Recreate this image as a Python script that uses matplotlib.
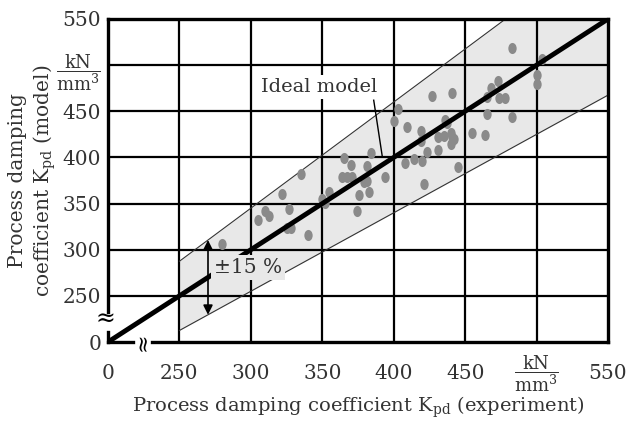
import matplotlib
matplotlib.use('Agg')
import matplotlib.pyplot as plt
import numpy as np
from matplotlib.path import Path
from matplotlib.markers import MarkerStyle

# ---- data ----
x_exp = [280, 305, 310, 313, 322, 327, 325, 328, 340, 335, 350, 352, 355, 365, 370,
         364, 367, 371, 374, 376, 379, 381, 383, 381, 384, 394, 421, 408, 414, 420,
         423, 431, 445, 400, 403, 409, 419, 419, 427, 441, 436, 437, 431, 435, 440,
         441, 442, 440, 455, 464, 465, 483, 465, 474, 478, 468, 473, 483, 504, 500, 500]
y_mod = [306, 332, 342, 336, 360, 344, 324, 323, 316, 382, 355, 351, 362, 399, 392,
         379, 379, 379, 342, 359, 373, 375, 362, 391, 405, 379, 371, 394, 398, 396,
         406, 408, 390, 439, 452, 433, 429, 418, 467, 470, 441, 437, 422, 423, 427,
         422, 420, 415, 427, 424, 447, 444, 465, 464, 464, 475, 483, 519, 507, 489, 480]

tick_values = [200, 250, 300, 350, 400, 450, 500, 550]
tick_labels = ['0', '250', '300', '350', '400', '450',
               r'$\dfrac{\mathrm{kN}}{\mathrm{mm}^3}$', '550']
axis_min, axis_max = 200, 550
tolerance = 0.15
band_start = 250
arrow_x = 270

plt.rcParams['font.family'] = 'DejaVu Serif'
plt.rcParams['mathtext.fontset'] = 'dejavuserif'
text_color = '#333333'
band_color = '#e8e8e8'
fs = 14
tick_fs = 14.5

fig = plt.figure(figsize=(6.27, 4.21), dpi=100)
ax = fig.add_axes([108 / 627, 1 - 342 / 421, 500 / 627, 323 / 421])
ax.set_xlim(axis_min, axis_max)
ax.set_ylim(axis_min, axis_max)

# tolerance band
xs = np.array([band_start, axis_max / (1 + tolerance), axis_max])
ax.fill_between(xs, (1 - tolerance) * xs, np.minimum((1 + tolerance) * xs, axis_max),
                color=band_color, lw=0, zorder=0.5)
ax.plot([band_start, axis_max / (1 + tolerance)],
        [(1 + tolerance) * band_start, axis_max], color='#333333', lw=0.8, zorder=1.5)
ax.plot([band_start, axis_max],
        [(1 - tolerance) * band_start, (1 - tolerance) * axis_max],
        color='#333333', lw=0.8, zorder=1.5)

# grid
for v in tick_values[1:-1]:
    ax.axvline(v, color='black', lw=1.6, zorder=1)
    ax.axhline(v, color='black', lw=1.6, zorder=1)

# data points (slightly elliptic dots)
circ = Path.unit_circle()
ell = Path(circ.vertices * np.array([0.75, 1.0]), circ.codes)
ax.scatter(x_exp, y_mod, marker=MarkerStyle(ell), s=64, color='#8a8a8a',
           linewidths=0, zorder=2)

# ideal line
ax.plot([axis_min, axis_max], [axis_min, axis_max], color='black', lw=3.5,
        solid_capstyle='butt', zorder=3)

# annotations
ax.text(307, 476.7, 'Ideal model', ha='left', va='center', fontsize=fs,
        color=text_color, zorder=4,
        bbox=dict(boxstyle='square,pad=0.15', fc='white', ec='none'))
ax.plot([386, 392], [462, 401], color='black', lw=1.0, zorder=4)

ax.text(274, 281, '±15 %', ha='left', va='center', fontsize=fs + 0.5, color=text_color,
        zorder=4, bbox=dict(boxstyle='square,pad=0.15', fc=band_color, ec='none'))
ax.annotate('', xy=(arrow_x, (1 - tolerance) * arrow_x),
            xytext=(arrow_x, (1 + tolerance) * arrow_x),
            arrowprops=dict(arrowstyle='<|-|>', color='black', lw=1.2,
                            mutation_scale=14, shrinkA=0, shrinkB=0), zorder=5)

# frame: top/right spines, broken left/bottom axes
for s in ['left', 'bottom']:
    ax.spines[s].set_visible(False)
for s in ['top', 'right']:
    ax.spines[s].set_linewidth(2.4)
    ax.spines[s].set_zorder(6)
ax.plot([axis_min, 217.5], [axis_min, axis_min], color='black', lw=2.4,
        clip_on=False, zorder=6, solid_capstyle='projecting')
ax.plot([230.8, axis_max], [axis_min, axis_min], color='black', lw=2.4,
        clip_on=False, zorder=6, solid_capstyle='projecting')
ax.plot([axis_min, axis_min], [axis_max, 232.7], color='black', lw=2.4,
        clip_on=False, zorder=6, solid_capstyle='projecting')
ax.plot([axis_min, axis_min], [211, axis_min], color='black', lw=2.4,
        clip_on=False, zorder=6, solid_capstyle='projecting')
ax.text(224, axis_min, '≈', rotation=90, ha='center', va='center', fontsize=16,
        color='black', clip_on=False, zorder=7)
ax.text(axis_min - 2, 226, '≈', ha='center', va='center', fontsize=17,
        color='black', clip_on=False, zorder=7)

ax.set_xticks(tick_values)
ax.set_xticklabels(tick_labels)
ax.set_yticks(tick_values)
ax.set_yticklabels(tick_labels)
ax.tick_params(axis='x', length=0, pad=23, labelsize=tick_fs, labelcolor=text_color)
ax.tick_params(axis='y', length=0, pad=5, labelsize=tick_fs, labelcolor=text_color)
for lab in ax.get_xticklabels():
    lab.set_va('center')
ax.get_xticklabels()[-2].set_fontsize(13)
ax.get_yticklabels()[-2].set_fontsize(13)

ax.set_xlabel(r'Process damping coefficient K$_{\mathrm{pd}}$ (experiment)',
              fontsize=fs, color=text_color)
ax.xaxis.set_label_coords(0.5, -0.165)
ax.set_ylabel('Process damping\n' + r'coefficient K$_{\mathrm{pd}}$ (model)',
              fontsize=fs + 0.5, color=text_color, linespacing=1.25)
ax.yaxis.set_label_coords(-0.1, 0.5)

fig.savefig('out.png', dpi=100)
